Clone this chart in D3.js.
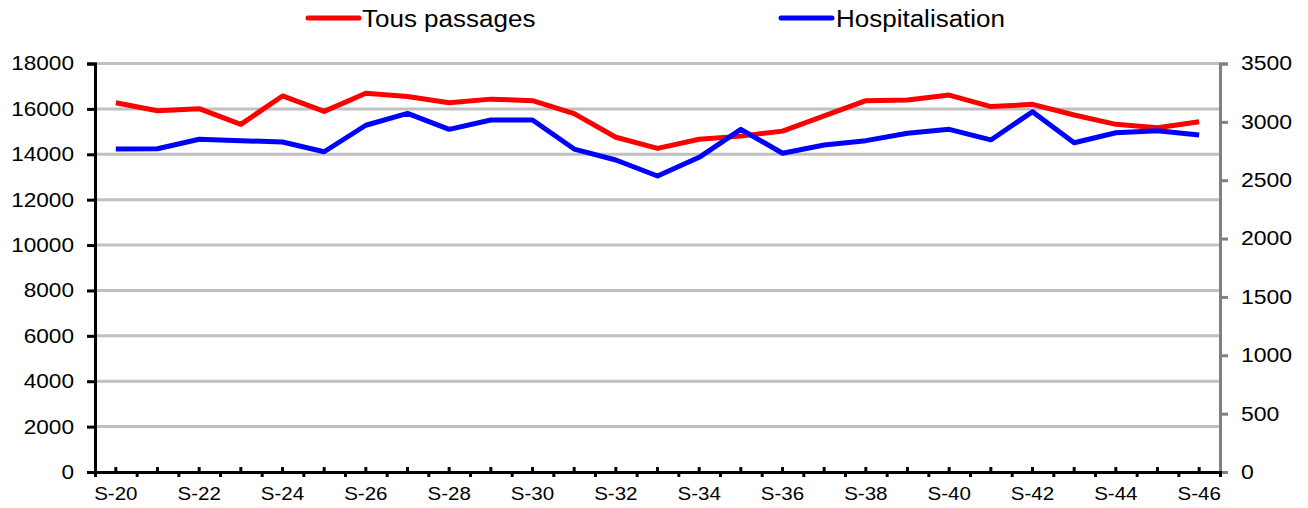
<!DOCTYPE html>
<html>
<head>
<meta charset="utf-8">
<script src="https://cdn.jsdelivr.net/npm/d3@7/dist/d3.min.js"></script>
<style>
  html, body { margin: 0; padding: 0; background: #fff; }
  svg { display: block; font-family: "Liberation Sans", Arial, sans-serif; }
</style>
</head>
<body>
<svg id="chart" width="1308" height="508"></svg>
<script>
const categories = ["S-20","S-21","S-22","S-23","S-24","S-25","S-26","S-27","S-28","S-29","S-30","S-31","S-32","S-33","S-34","S-35","S-36","S-37","S-38","S-39","S-40","S-41","S-42","S-43","S-44","S-45","S-46"];
const tousPassages = [16270,15920,16010,15320,16570,15890,16690,16550,16270,16430,16360,15790,14750,14260,14660,14800,15020,15690,16360,16390,16610,16100,16200,15730,15320,15170,15430];
const hospitalisation = [2767,2770,2851,2839,2827,2744,2971,3073,2936,3016,3016,2767,2673,2536,2696,2936,2731,2802,2839,2902,2936,2845,3087,2821,2907,2924,2887];
const leftTicks = [0,2000,4000,6000,8000,10000,12000,14000,16000,18000];
const rightTicks = [0,500,1000,1500,2000,2500,3000,3500];
const seriesNames = ["Tous passages","Hospitalisation"];
const seriesColors = ["#ff0000","#0000ff"];

const svg = d3.select("#chart");
const plotLeft = 95, plotRight = 1220, plotTop = 63.5, plotBottom = 472;

const x = d3.scaleBand().domain(categories).range([plotLeft, plotRight]).padding(0);
const xLin = d3.scaleLinear().domain([0, categories.length]).range([plotLeft, plotRight]);
const yL = d3.scaleLinear().domain([0, 18000]).range([plotBottom, plotTop]);
const yR = d3.scaleLinear().domain([0, 3500]).range([plotBottom, plotTop]);

// widen glyphs horizontally to match the reference's wide lettering
function stretch(sel, k) {
  sel.each(function() {
    const w = this.getComputedTextLength();
    if (w > 0) d3.select(this).attr("textLength", w * k).attr("lengthAdjust", "spacingAndGlyphs");
  });
}
const FONT = "Liberation Sans, Arial, sans-serif";

// gridlines
svg.append("g").selectAll("line").data(leftTicks.filter(d => d > 0)).join("line")
  .attr("x1", plotLeft).attr("x2", plotRight)
  .attr("y1", d => yL(d)).attr("y2", d => yL(d))
  .attr("stroke", "#c0c0c0").attr("stroke-width", 3);

// left axis
const gL = svg.append("g").attr("transform", `translate(${plotLeft},0)`)
  .call(d3.axisLeft(yL).tickValues(leftTicks).tickSize(8).tickPadding(13).tickFormat(d3.format("d")));
gL.select(".domain").attr("stroke", "#000").attr("stroke-width", 3);
gL.selectAll(".tick line").attr("stroke", "#000").attr("stroke-width", 3);
gL.selectAll(".tick text").attr("font-size", 20).attr("fill", "#000").attr("font-family", FONT).call(stretch, 1.13);

// right axis
const gR = svg.append("g").attr("transform", `translate(${plotRight},0)`)
  .call(d3.axisRight(yR).tickValues(rightTicks).tickSize(8).tickPadding(13).tickFormat(d3.format("d")));
gR.select(".domain").attr("stroke", "#808080").attr("stroke-width", 3);
gR.selectAll(".tick line").attr("stroke", "#808080").attr("stroke-width", 3);
gR.selectAll(".tick text").attr("font-size", 20).attr("fill", "#000").attr("font-family", FONT).call(stretch, 1.15);

// bottom axis: boundary ticks (down)
const gB1 = svg.append("g").attr("transform", `translate(0,${plotBottom})`)
  .call(d3.axisBottom(xLin).tickValues(d3.range(0, categories.length + 1)).tickSize(5).tickFormat(""));
gB1.select(".domain").attr("stroke", "#000").attr("stroke-width", 3);
gB1.selectAll(".tick line").attr("stroke", "#000").attr("stroke-width", 3);

// bottom axis: center ticks (up) + labels
const gB2 = svg.append("g").attr("transform", `translate(0,${plotBottom})`)
  .call(d3.axisBottom(x).tickSize(-5).tickPadding(15).tickFormat((d, i) => i % 2 === 0 ? d : ""));
gB2.select(".domain").remove();
gB2.selectAll(".tick line").attr("stroke", "#000").attr("stroke-width", 3);
gB2.selectAll(".tick text").attr("font-size", 19).attr("fill", "#000").attr("font-family", FONT).call(stretch, 1.08);

// lines
const cx = d => x(d) + x.bandwidth() / 2;
const lineL = d3.line().x((d, i) => cx(categories[i])).y(d => yL(d));
const lineR = d3.line().x((d, i) => cx(categories[i])).y(d => yR(d));

svg.append("path").datum(tousPassages).attr("d", lineL)
  .attr("fill", "none").attr("stroke", seriesColors[0]).attr("stroke-width", 5)
  .attr("stroke-linejoin", "round");
svg.append("path").datum(hospitalisation).attr("d", lineR)
  .attr("fill", "none").attr("stroke", seriesColors[1]).attr("stroke-width", 5)
  .attr("stroke-linejoin", "round");

// legend
const legendPos = [{x1: 308, x2: 359, tx: 362}, {x1: 781, x2: 832, tx: 836}];
const lg = svg.append("g");
seriesNames.forEach((name, i) => {
  const p = legendPos[i];
  lg.append("line").attr("x1", p.x1).attr("x2", p.x2).attr("y1", 18).attr("y2", 18)
    .attr("stroke", seriesColors[i]).attr("stroke-width", 5).attr("stroke-linecap", "round");
  lg.append("text").attr("x", p.tx).attr("y", 27).attr("font-size", 23).attr("fill", "#000")
    .attr("font-family", FONT).text(name).call(stretch, 1.13);
});
</script>
</body>
</html>
